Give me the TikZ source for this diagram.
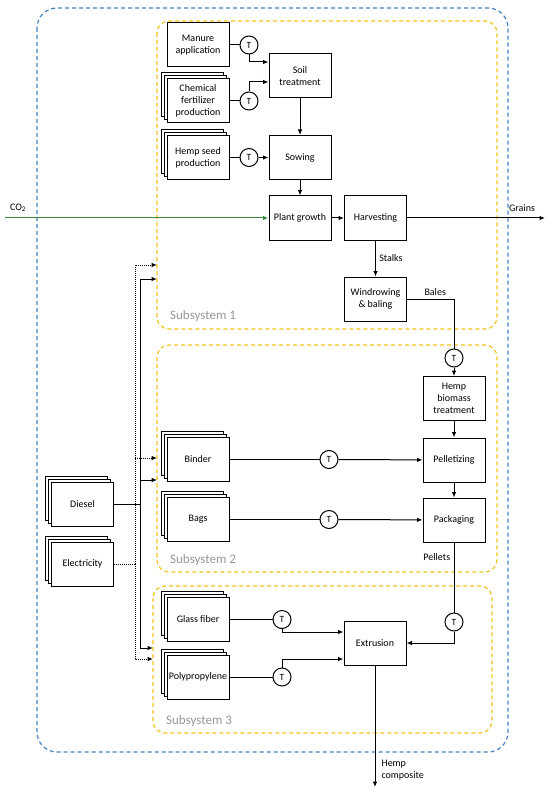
\documentclass[tikz,border=0pt]{standalone}
\usepackage{fontspec}
\setmainfont{Carlito}
\usetikzlibrary{shadows,arrows.meta}

\definecolor{outerblue}{RGB}{70,130,198}
\definecolor{subyellow}{RGB}{240,196,30}
\definecolor{co2green}{RGB}{60,140,60}
\definecolor{subgray}{RGB}{150,150,150}

\tikzset{
	process/.style={draw,fill=white,line width=1pt,minimum width=62pt,minimum height=44pt,
		inner sep=1pt,align=center,font=\fontsize{10}{12}\selectfont},
	supply/.style={process,double copy shadow={shadow xshift=-3pt,shadow yshift=3pt}},
	transport/.style={draw,circle,fill=white,line width=1pt,minimum size=18pt,inner sep=0pt,
		font=\fontsize{9.5}{10}\selectfont},
	link/.style={line width=1pt},
	flow/.style={link,->,>={Latex[length=5.5pt,width=4.5pt]}},
	flowtext/.style={font=\fontsize{10}{12}\selectfont,align=left},
	subsys/.style={draw=subyellow,line width=1.2pt,dash pattern=on 4pt off 3pt,rounded corners=12pt},
	subtitle/.style={text=subgray,font=\fontsize{13}{15}\selectfont,inner sep=0pt},
}

\begin{document}
\begin{tikzpicture}[x=1pt,y=-1pt]
	\useasboundingbox (0,0) rectangle (550,794);

	% system boundary and the three subsystems
	\draw[draw=outerblue,line width=1.2pt,dash pattern=on 4pt off 3pt,rounded corners=20pt] (37,8) rectangle (508,752);
	\draw[subsys] (157,21) rectangle (497,329);
	\draw[subsys] (157,345) rectangle (497,572);
	\draw[subsys] (153,586) rectangle (492,733);
	\node[subtitle,anchor=base west] (title1) at (170,319) {Subsystem 1};
	\node[subtitle,anchor=base west] (title2) at (170,563) {Subsystem 2};
	\node[subtitle,anchor=base west] (title3) at (166,724) {Subsystem 3};

	% subsystem 1: cultivation
	\node[process] (manure) at (198,45) {Manure\\application};
	\node[supply] (fert) at (198,101) {Chemical\\fertilizer\\production};
	\node[supply] (seed) at (198,157.5) {Hemp seed\\production};
	\node[process] (soil) at (300,76) {Soil\\treatment};
	\node[process] (sowing) at (300,157.5) {Sowing};
	\node[process] (growth) at (300,218) {Plant growth};
	\node[process] (harvest) at (375.5,218) {Harvesting};
	\node[process] (baling) at (375.5,299) {Windrowing\\\& baling};

	% subsystem 2: pellets
	\node[process] (biomass) at (454,398.5) {Hemp\\biomass\\treatment};
	\node[process] (pellet) at (454,460) {Pelletizing};
	\node[process] (pack) at (454,520) {Packaging};
	\node[supply] (binder) at (198,459.5) {Binder};
	\node[supply] (bags) at (198,519.5) {Bags};

	% subsystem 3: composite
	\node[supply] (glass) at (198,619.5) {Glass fiber};
	\node[supply] (pp) at (198,677) {Polypropylene};
	\node[process] (extr) at (375,643) {Extrusion};

	% energy
	\node[supply] (diesel) at (82.5,504) {Diesel};
	\node[supply] (power) at (82.5,564) {Electricity};

	% transport steps
	\foreach \name/\x/\y in {tmanure/249/45, tfert/249/101, tseed/249/157.5, tbales/454/358,
		tbinder/329/459.5, tbags/329/519.5, tpellet/454/622, tglass/282/619.5, tpp/282/677}
		\node[transport] (\name) at (\x,\y) {T};

	\draw[link] (manure) -- (tmanure);
	\draw[flow] (tmanure) |- ([yshift=14pt]soil.west);
	\draw[link] (fert) -- (tfert);
	\draw[flow] (tfert) |- ([yshift=-6pt]soil.west);
	\draw[link] (seed) -- (tseed);
	\draw[flow] (tseed) -- (sowing);
	\draw[flow] (soil) -- (sowing);
	\draw[flow] (sowing) -- (growth);
	\draw[flow] (growth) -- (harvest);

	\coordinate (co2) at (5,218);
	\coordinate (grains) at (545,218);
	\draw[flow,co2green] (co2) -- (growth);
	\node[flowtext] (co2text) at (18,208) {CO\textsubscript{2}};
	\draw[flow] (harvest) -- (grains);
	\node[flowtext] (grainstext) at (522,208) {Grains};
	\draw[flow] (harvest) -- node[flowtext,right,pos=0.5] {Stalks} (baling);
	\draw[link] (baling) -| node[flowtext,above,pos=0.3] {Bales} (tbales);

	\draw[flow] (tbales) -- (biomass);
	\draw[flow] (biomass) -- (pellet);
	\draw[flow] (pellet) -- (pack);
	\draw[link] (binder) -- (tbinder);
	\draw[flow] (tbinder) -- (pellet);
	\draw[link] (bags) -- (tbags);
	\draw[flow] (tbags) -- (pack);
	\draw[link] (pack) -- node[flowtext,left,pos=0.21] {Pellets} (tpellet);
	\draw[flow] (tpellet) |- (extr);

	\draw[link] (glass) -- (tglass);
	\draw[flow] (tglass) |- ([yshift=11pt]extr.west);
	\draw[link] (pp) -- (tpp);
	\draw[flow] (tpp) |- ([yshift=-16pt]extr.west);
	\coordinate (composite) at (375,787);
	\draw[flow] (extr) -- (composite);
	\node[flowtext,anchor=north west] (compositetext) at (378,757) {Hemp\\composite};

	% energy supply to every subsystem
	\coordinate (dieselbus) at (140,504);
	\coordinate (powerbus) at (135,564);
	\coordinate (diesel1) at (157,279);
	\coordinate (power1) at (157,265);
	\coordinate (diesel2) at (157,480);
	\coordinate (power2) at (157,458);
	\coordinate (diesel3) at (153,648);
	\coordinate (power3) at (153,659);
	\draw[link] (diesel) -- (dieselbus);
	\draw[link,densely dotted] (power) -- (powerbus);
	\foreach \s in {1,2,3}
	{
		\draw[flow] (dieselbus) |- (diesel\s);
		\draw[flow,densely dotted] (powerbus) |- (power\s);
	}
\end{tikzpicture}
\end{document}
